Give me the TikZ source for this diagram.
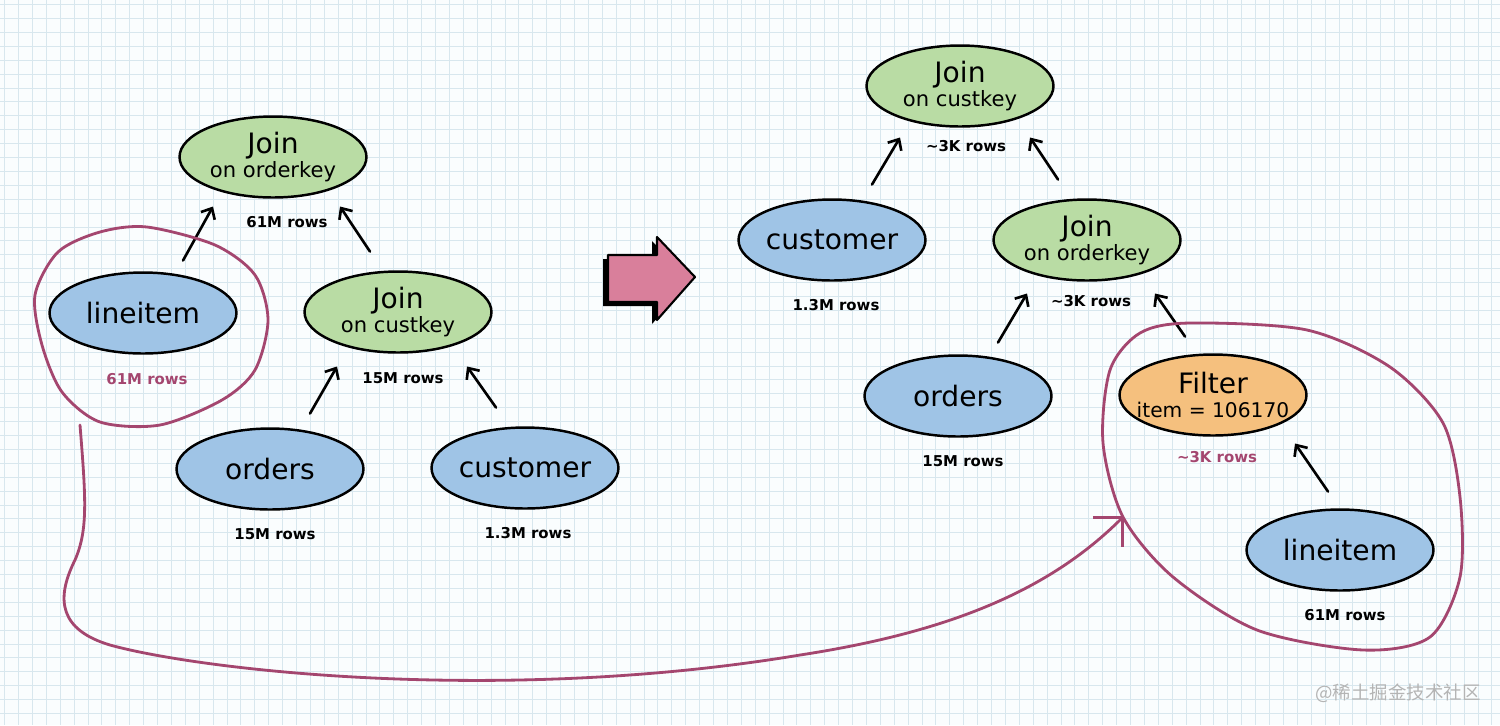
\documentclass[tikz,border=0pt]{standalone}
\usepackage{fontspec}
\setmainfont{DejaVu Sans}
\newfontfamily\cjkfont{Noto Sans CJK SC}
\usetikzlibrary{shapes.geometric,arrows.meta}

\definecolor{paper}{HTML}{FAFDFE}
\definecolor{gridblue}{HTML}{D8E7EE}
\definecolor{joingreen}{HTML}{B9DCA4}
\definecolor{tableblue}{HTML}{9FC4E6}
\definecolor{filterorange}{HTML}{F5C07E}
\definecolor{loopred}{HTML}{A4466F}
\definecolor{arrowpink}{HTML}{D97F9B}
\definecolor{wmgray}{HTML}{B4B4B4}

\newcommand{\subline}[1]{{\fontsize{12}{12}\selectfont #1}}

\begin{document}
\begin{tikzpicture}[x=0.02cm, y=-0.02cm,
        every node/.style={outer sep=0pt},
        op/.style={ellipse, draw=black, line width=1.4pt, inner xsep=-12pt, inner ysep=-6pt,
            minimum width=3.74cm, minimum height=1.62cm, align=center,
            font=\fontsize{16}{17}\selectfont},
        joinnode/.style={op, fill=joingreen},
        tablenode/.style={op, fill=tableblue},
        filternode/.style={op, fill=filterorange},
        rows/.style={font=\bfseries\fontsize{8.5}{10}\selectfont},
        hot/.style={rows, text=loopred},
        flow/.style={-{Straight Barb[length=5pt,width=9pt]}, line width=1.5pt, line cap=round},
        loopline/.style={draw=loopred, line width=1.6pt, line cap=round, line join=round},
        gridline/.style={draw=gridblue, line width=0.4pt}]
    \useasboundingbox (0,0) rectangle (1500,725);
    \fill[paper] (0,0) rectangle (1500,725);
    \foreach \i in {0,...,107}
        \draw[gridline] (4.5+13.9*\i,0) -- (4.5+13.9*\i,725);
    \foreach \j in {0,...,51}
        \draw[gridline] (0,4.5+13.9*\j) -- (1500,4.5+13.9*\j);

    % before
    \node[joinnode] (joinorderL) at (273,157) {Join\\[-3pt]\subline{on orderkey}};
    \node[rows] (joinorderLrows) at (287,222) {61M rows};
    \node[tablenode] (lineitemL) at (143,313) {lineitem};
    \node[hot] (lineitemLrows) at (147,379) {61M rows};
    \node[joinnode] (joincustL) at (398,312) {Join\\[-3pt]\subline{on custkey}};
    \node[rows] (joincustLrows) at (403,378) {15M rows};
    \node[tablenode] (ordersL) at (270,469) {orders};
    \node[rows] (ordersLrows) at (275,534) {15M rows};
    \node[tablenode] (customerL) at (525,468) {customer};
    \node[rows] (customerLrows) at (528,533) {1.3M rows};

    \draw[flow] ([shift={(40,-12)}]lineitemL.north) -- ([shift={(-60,9)}]joinorderL.south);
    \draw[flow] ([shift={(-28,-20)}]joincustL.north) -- ([shift={(67,9)}]joinorderL.south);
    \draw[flow] ([shift={(40,-15)}]ordersL.north) -- ([shift={(-61,14)}]joincustL.south);
    \draw[flow] ([shift={(-29,-20)}]customerL.north) -- ([shift={(69,14)}]joincustL.south);

    % rewrite arrow
    \fill[black, shift={(-5,4)}] (608,255) -- (657,255) -- (657,237) -- (695,277)
        -- (657,320) -- (657,302) -- (608,302) -- cycle;
    \filldraw[fill=arrowpink, draw=black, line width=1.2pt, line join=round]
        (608,255) -- (657,255) -- (657,237) -- (695,277)
        -- (657,320) -- (657,302) -- (608,302) -- cycle;

    % after
    \node[joinnode] (joincustR) at (960,86) {Join\\[-3pt]\subline{on custkey}};
    \node[rows] (joincustRrows) at (966,146) {\textasciitilde3K rows};
    \node[tablenode] (customerR) at (832,240) {customer};
    \node[rows] (customerRrows) at (836,305) {1.3M rows};
    \node[joinnode] (joinorderR) at (1087,240) {Join\\[-3pt]\subline{on orderkey}};
    \node[rows] (joinorderRrows) at (1091,301) {\textasciitilde3K rows};
    \node[tablenode] (ordersR) at (958,396) {orders};
    \node[rows] (ordersRrows) at (963,461) {15M rows};
    \node[filternode] (filter) at (1213,395) {Filter\\[-3pt]{\fontsize{11.5}{12}\selectfont item = 106170}};
    \node[hot] (filterrows) at (1217,457) {\textasciitilde3K rows};
    \node[tablenode] (lineitemR) at (1340,550) {lineitem};
    \node[rows] (lineitemRrows) at (1345,615) {61M rows};

    \draw[flow] ([shift={(40,-15)}]customerR.north) -- ([shift={(-60,11)}]joincustR.south);
    \draw[flow] ([shift={(-29,-20)}]joinorderR.north) -- ([shift={(70,11)}]joincustR.south);
    \draw[flow] ([shift={(40,-13)}]ordersR.north) -- ([shift={(-60,13)}]joinorderR.south);
    \draw[flow] ([shift={(-28,-18)}]filter.north) -- ([shift={(68,13)}]joinorderR.south);
    \draw[flow] ([shift={(-12,-18)}]lineitemR.north) -- ([shift={(82,8)}]filter.south);

    % pushed-down lineitem
    \draw[loopline] plot[smooth cycle] coordinates {(147,227) (215,245) (255,275) (268,320)
        (255,370) (222,400) (160,425) (100,422) (62,392) (42,345) (35,295) (58,252) (100,232)};
    \draw[loopline] plot[smooth cycle] coordinates {(1190,323) (1307,330) (1390,367) (1443,423)
        (1460,497) (1460,577) (1430,637) (1363,650) (1257,630) (1173,577) (1123,517)
        (1103,443) (1110,370) (1140,333)};
    \coordinate (fromloop) at (80,425);
    \coordinate (toloop) at (1124,516);
    \draw[loopline, -{Straight Barb[length=12pt,width=24pt]}] (fromloop)
        .. controls (86,500) and (88,530) .. (75,560)
        .. controls (55,600) and (60,630) .. (110,645)
        .. controls (200,670) and (500,705) .. (800,655)
        .. controls (950,632) and (1050,590) .. (toloop);

    \node[text=wmgray, font=\cjkfont\fontsize{10.5}{11}\selectfont] (watermark) at (1398,693) {@稀土掘金技术社区};
\end{tikzpicture}
\end{document}
